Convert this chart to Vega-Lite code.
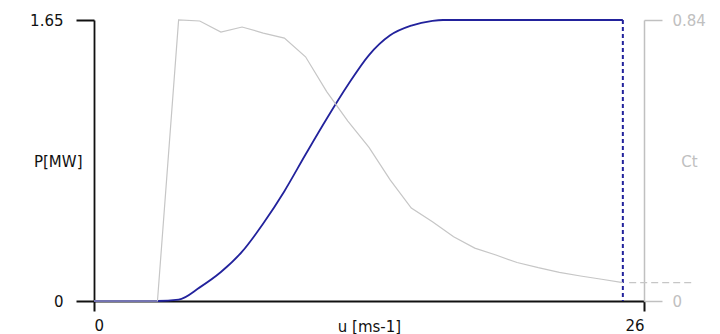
{
  "$schema": "https://vega.github.io/schema/vega-lite/v6.json",
  "autosize": {"type": "none"},
  "padding": {"left": 94, "top": 20, "right": 76, "bottom": 33},
  "width": 550,
  "height": 281,
  "background": "#ffffff",
  "config": {
    "view": {"stroke": null},
    "axis": {"labelFont": "DejaVu Sans", "titleFont": "DejaVu Sans", "labelFontSize": 15, "titleFontSize": 15, "titleFontWeight": "normal", "grid": false}
  },
  "datasets": {
    "power": [
      {"u": 0, "P": 0}, {"u": 3, "P": 0}, {"u": 4, "P": 0.008}, {"u": 5, "P": 0.08},
      {"u": 6, "P": 0.17}, {"u": 7, "P": 0.29}, {"u": 8, "P": 0.455}, {"u": 9, "P": 0.645},
      {"u": 10, "P": 0.86}, {"u": 11, "P": 1.07}, {"u": 12, "P": 1.268}, {"u": 13, "P": 1.444},
      {"u": 14, "P": 1.56}, {"u": 15, "P": 1.617}, {"u": 16, "P": 1.645}, {"u": 16.5, "P": 1.65},
      {"u": 17, "P": 1.65}, {"u": 18, "P": 1.65}, {"u": 19, "P": 1.65}, {"u": 20, "P": 1.65},
      {"u": 21, "P": 1.65}, {"u": 22, "P": 1.65}, {"u": 23, "P": 1.65}, {"u": 24, "P": 1.65},
      {"u": 25, "P": 1.65}
    ],
    "cutout": [{"u": 25, "top": 1.65, "bottom": 0}],
    "ct": [
      {"u": 0, "Ct": 0}, {"u": 3, "Ct": 0}, {"u": 4, "Ct": 0.84}, {"u": 5, "Ct": 0.837},
      {"u": 6, "Ct": 0.804}, {"u": 7, "Ct": 0.819}, {"u": 8, "Ct": 0.801}, {"u": 9, "Ct": 0.786},
      {"u": 10, "Ct": 0.73}, {"u": 11, "Ct": 0.626}, {"u": 12, "Ct": 0.538}, {"u": 13, "Ct": 0.459},
      {"u": 14, "Ct": 0.362}, {"u": 15, "Ct": 0.278}, {"u": 16, "Ct": 0.237}, {"u": 17, "Ct": 0.192},
      {"u": 18, "Ct": 0.158}, {"u": 19, "Ct": 0.1375}, {"u": 20, "Ct": 0.115}, {"u": 21, "Ct": 0.0996},
      {"u": 22, "Ct": 0.0857}, {"u": 23, "Ct": 0.0747}, {"u": 24, "Ct": 0.065}, {"u": 25, "Ct": 0.055}
    ],
    "ctext": [{"u": 25.3, "Ct": 0.055}, {"u": 28.3, "Ct": 0.055}]
  },
  "encoding": {
    "x": {"field": "u", "type": "quantitative", "scale": {"domain": [0, 26], "nice": false, "zero": false},
      "axis": {"title": "u [ms-1]", "values": [0, 26], "tickSize": 10, "tickWidth": 2, "tickColor": "#111111", "domainColor": "#111111", "domainWidth": 1.8, "labelColor": "#111111", "labelPadding": 7, "labelBaseline": "top", "titleColor": "#111111", "titleX": 275, "titleY": 18, "titleBaseline": "top", "titleAlign": "center"}}
  },
  "layer": [
    {
      "layer": [
        {
          "data": {"name": "power"},
          "mark": {"type": "line", "color": "#22229c", "strokeWidth": 1.8, "interpolate": "monotone", "clip": false},
          "encoding": {
            "y": {"field": "P", "type": "quantitative", "scale": {"domain": [0, 1.65], "nice": false, "zero": false},
              "axis": {"title": "P[MW]", "orient": "left", "values": [0, 1.65], "format": ".2~f", "tickSize": 18, "tickWidth": 2, "tickColor": "#111111", "domainColor": "#111111", "domainWidth": 1.8, "labelColor": "#111111", "labelPadding": 13, "titleColor": "#111111", "titleAngle": 0, "titleX": -12, "titleY": 141, "titleAlign": "right", "titleBaseline": "middle"}}
          }
        },
        {
          "data": {"name": "cutout"},
          "mark": {"type": "rule", "color": "#22229c", "strokeWidth": 2, "strokeDash": [4, 3]},
          "encoding": {
            "y": {"field": "top", "type": "quantitative"},
            "y2": {"field": "bottom"}
          }
        }
      ]
    },
    {
      "layer": [
        {
          "data": {"name": "ct"},
          "mark": {"type": "line", "color": "#c6c6c6", "strokeWidth": 1.2},
          "encoding": {
            "y": {"field": "Ct", "type": "quantitative", "scale": {"domain": [0, 0.84], "nice": false, "zero": false},
              "axis": {"title": "Ct", "orient": "right", "values": [0, 0.84], "format": ".2~f", "tickSize": 18, "tickWidth": 1.5, "tickColor": "#c0c0c0", "domainColor": "#c0c0c0", "domainWidth": 1.5, "labelColor": "#c0c0c0", "labelPadding": 10, "titleColor": "#c0c0c0", "titleAngle": 0, "titleX": 45, "titleY": 141, "titleAlign": "center", "titleBaseline": "middle"}}
          }
        },
        {
          "data": {"name": "ctext"},
          "mark": {"type": "line", "color": "#c6c6c6", "strokeWidth": 1.2, "strokeDash": [7, 4], "clip": false},
          "encoding": {
            "y": {"field": "Ct", "type": "quantitative"}
          }
        }
      ]
    }
  ],
  "resolve": {"scale": {"y": "independent"}}
}
